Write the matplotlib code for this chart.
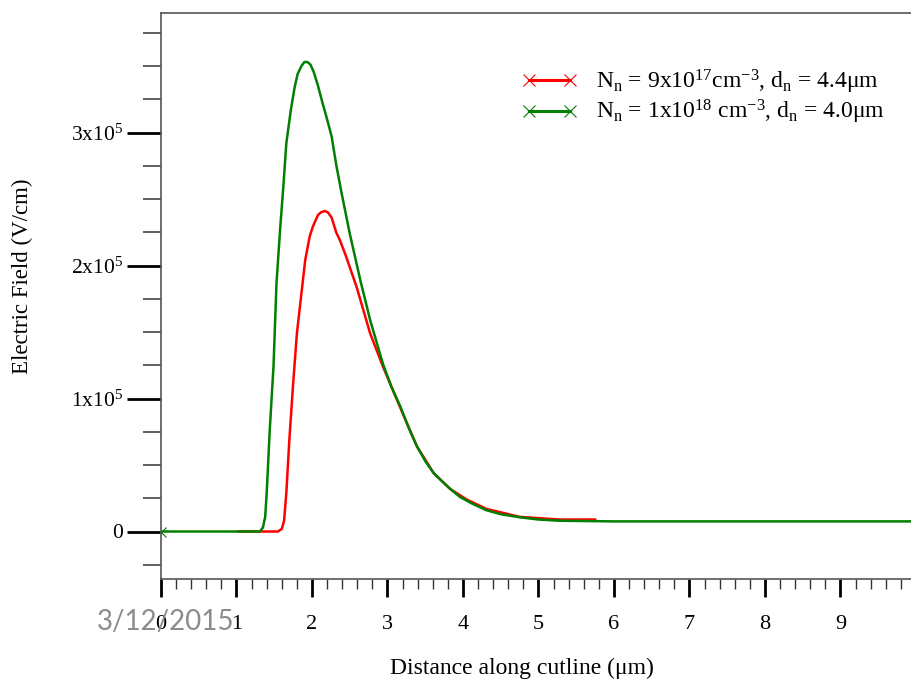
import numpy as np
import matplotlib
matplotlib.use("Agg")
from matplotlib import pyplot as plt
from matplotlib.lines import Line2D
from matplotlib.ticker import MultipleLocator, FixedLocator

# --- data (field in units of 1e5 V/cm, distance in um) ---
red_x = [1.02, 1.55, 1.60, 1.63, 1.66, 1.70, 1.75, 1.80, 1.86, 1.91, 1.97, 2.01,
         2.04, 2.08, 2.12, 2.17, 2.21, 2.26, 2.32, 2.37, 2.45, 2.59, 2.77, 2.94,
         3.17, 3.39, 3.61, 3.83, 4.05, 4.31, 4.75, 5.28, 5.75]
red_e = [0.0, 0.0, 0.02, 0.08, 0.29, 0.69, 1.11, 1.49, 1.79, 2.04, 2.22, 2.29,
         2.33, 2.38, 2.40, 2.41, 2.40, 2.36, 2.25, 2.19, 2.07, 1.84, 1.49, 1.24,
         0.93, 0.64, 0.44, 0.32, 0.24, 0.17, 0.11, 0.09, 0.09]

green_x = [0.0, 1.0, 1.31, 1.35, 1.38, 1.40, 1.44, 1.49, 1.53, 1.58, 1.62, 1.66,
           1.72, 1.77, 1.81, 1.86, 1.90, 1.94, 1.98, 2.02, 2.08, 2.14, 2.19, 2.26,
           2.32, 2.36, 2.39, 2.50, 2.64, 2.77, 2.94, 3.05, 3.17, 3.28, 3.39, 3.50,
           3.61, 3.70, 3.83, 3.96, 4.12, 4.31, 4.50, 4.75, 5.0, 5.28, 6.0, 8.0, 10.0]
green_e = [0.0, 0.0, 0.0, 0.03, 0.11, 0.29, 0.76, 1.24, 1.87, 2.29, 2.59, 2.92,
           3.17, 3.34, 3.44, 3.50, 3.53, 3.53, 3.51, 3.46, 3.35, 3.22, 3.12, 2.97,
           2.76, 2.64, 2.55, 2.24, 1.89, 1.59, 1.26, 1.09, 0.94, 0.78, 0.64, 0.53,
           0.44, 0.39, 0.32, 0.26, 0.21, 0.16, 0.13, 0.107, 0.09, 0.081, 0.076,
           0.076, 0.076]

red_label = r'N$_{\mathrm{n}}$ = 9x10$^{17}$cm$^{\mathrm{-3}}$, d$_{\mathrm{n}}$ = 4.4$\mathrm{\mu}$m'
green_label = r'N$_{\mathrm{n}}$ = 1x10$^{18}$ cm$^{\mathrm{-3}}$, d$_{\mathrm{n}}$ = 4.0$\mathrm{\mu}$m'

y_major = [0, 1, 2, 3]
y_labels = ['0', r'1x10$^{5}$', r'2x10$^{5}$', r'3x10$^{5}$']
x_major = list(range(10))

plt.rcParams['font.family'] = 'Liberation Serif'
plt.rcParams['mathtext.fontset'] = 'custom'
plt.rcParams['mathtext.rm'] = 'Liberation Serif'
plt.rcParams['mathtext.it'] = 'Liberation Serif:italic'

W, H = 912, 682
fig = plt.figure(figsize=(W / 100, H / 100), dpi=100)

x0, x1 = 161, 912
y_top, y_bot = 12.7, 578.5
ax = fig.add_axes([x0 / W, 1 - y_bot / H, (x1 - x0) / W, (y_bot - y_top) / H])

red, green = '#ff0000', '#008000'
ax.plot(red_x, red_e, color=red, lw=1.8, solid_joinstyle='round')
ax.plot(green_x, green_e, color=green, lw=1.8, solid_joinstyle='round',
        marker='x', markevery=[0], ms=7, mew=0.8)

px_per_um = 75.5
px_per_unit = 133.0
zero_px = 531.5
ax.set_xlim(0, (x1 - x0) / px_per_um)
ax.set_ylim((zero_px - y_bot) / px_per_unit, (zero_px - y_top) / px_per_unit)

ax.spines['right'].set_visible(False)
for s in ['left', 'top', 'bottom']:
    ax.spines[s].set_color('#555555')
    ax.spines[s].set_linewidth(1.2)

ax.xaxis.set_major_locator(FixedLocator(x_major))
ax.xaxis.set_minor_locator(MultipleLocator(0.2))
ax.yaxis.set_major_locator(FixedLocator(y_major))
ax.yaxis.set_minor_locator(MultipleLocator(0.25))
ax.set_yticklabels(y_labels)

ax.tick_params(axis='x', which='major', direction='out', length=13, width=2.0,
               color='black', pad=13, labelsize=16)
ax.tick_params(axis='x', which='minor', direction='out', length=7.5, width=1.0,
               color='#333333')
ax.tick_params(axis='y', which='major', direction='out', length=24.5, width=2.0,
               color='black', pad=3, labelsize=15.5)
ax.tick_params(axis='y', which='minor', direction='out', length=13, width=1.1,
               color='#333333')

ax.set_xlabel(u'Distance along cutline (\u03bcm)', fontsize=17)
ax.xaxis.set_label_coords((522 - x0) / (x1 - x0), -(668 - y_bot) / (y_bot - y_top))
ax.xaxis.label.set_va('center')
ax.set_ylabel('Electric Field (V/cm)', fontsize=16.5)
ax.yaxis.set_label_coords(-(x0 - 22) / (x1 - x0), (y_bot - 276) / (y_bot - y_top))
ax.yaxis.label.set_va('center')

handles = [Line2D([], [], color=red, lw=2.2, marker='x', ms=9, mew=0.8),
           Line2D([], [], color=green, lw=2.2, marker='x', ms=9, mew=0.8)]
fig.legend(handles, [red_label, green_label], loc='upper left',
           bbox_to_anchor=(521.7 / W, 1 - 68 / H), frameon=False, fontsize=17,
           numpoints=2, handlelength=2.35, handletextpad=0.8, borderpad=0,
           borderaxespad=0, labelspacing=0.08)

fig.text(97 / W, 1 - 622 / H, '3/12/2015', color='#8c8c8c', fontsize=20,
         family='Lato', ha='left', va='center')

fig.savefig('out.png', dpi=100)
